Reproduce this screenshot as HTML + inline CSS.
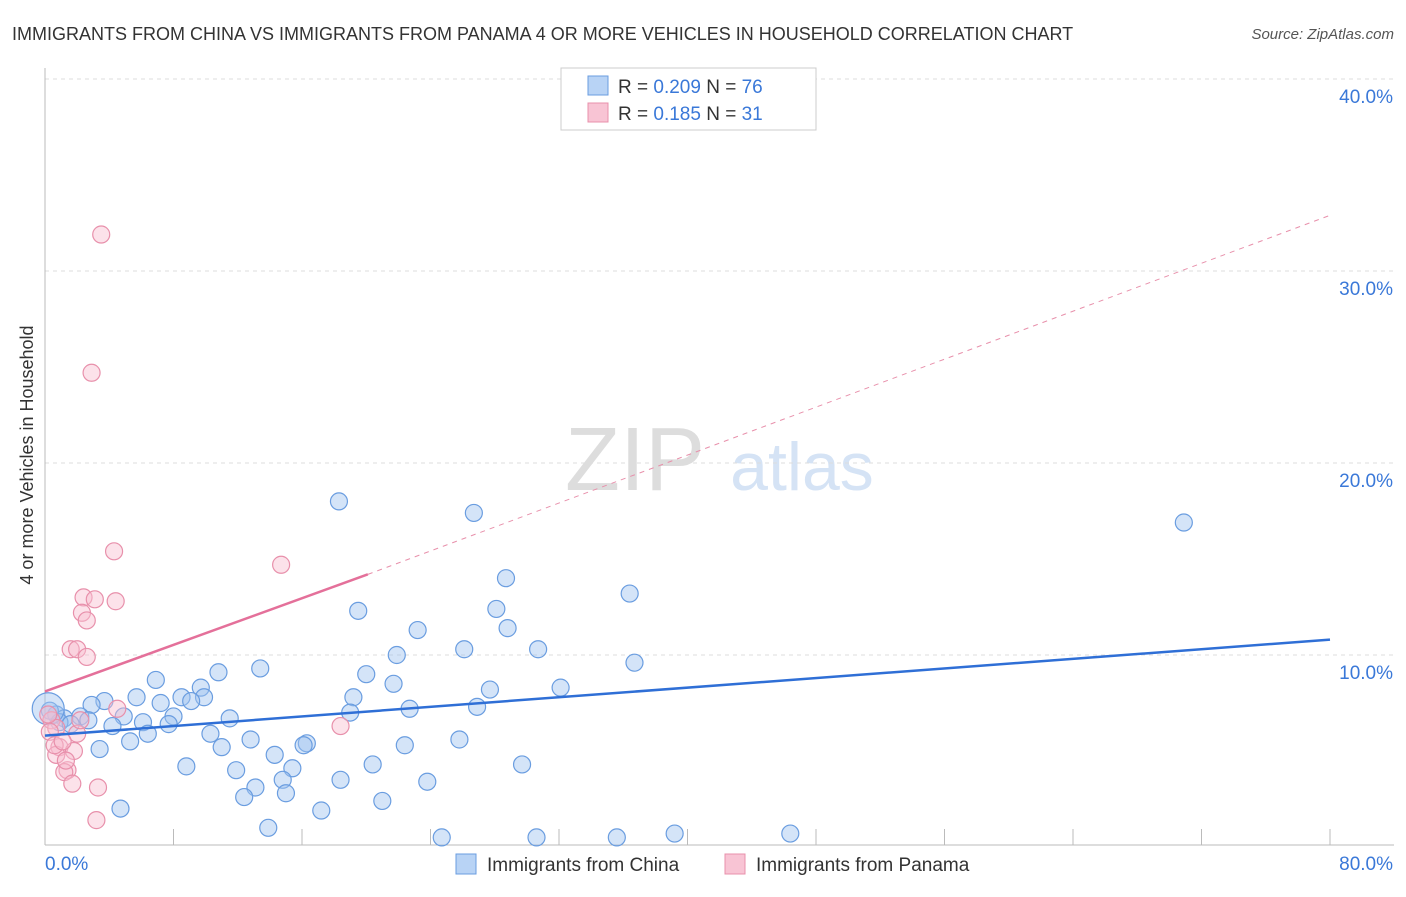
<!DOCTYPE html>
<html><head><meta charset="utf-8"><style>
body{margin:0;background:#fff;font-family:"Liberation Sans",sans-serif;}
svg text{font-family:"Liberation Sans",sans-serif;}
</style></head><body>
<svg width="1406" height="892" id="c">
<text x="12" y="40" font-size="18" fill="#333">IMMIGRANTS FROM CHINA VS IMMIGRANTS FROM PANAMA 4 OR MORE VEHICLES IN HOUSEHOLD CORRELATION CHART</text>
<text x="1394" y="39" font-size="15" fill="#555" font-style="italic" text-anchor="end">Source: ZipAtlas.com</text>
<text x="0" y="0" transform="translate(33,455) rotate(-90)" font-size="18" fill="#333" text-anchor="middle">4 or more Vehicles in Household</text>
<text x="635" y="490" font-size="90" fill="#ddd" font-family="Liberation Serif" text-anchor="middle">ZIP</text>
<text x="802" y="490" font-size="68" fill="#d5e3f5" text-anchor="middle">atlas</text>
<g id="grid"></g><g id="marks"></g>
<g>
<rect x="561" y="68" width="255" height="62" fill="#fff" stroke="#ccc"/>
<rect x="588" y="76" width="20" height="19" fill="#b8d3f5" stroke="#6a9de0"/>
<rect x="588" y="103" width="20" height="19" fill="#f8c4d4" stroke="#e890ab"/>
<text x="618" y="93" font-size="19" fill="#333">R = <tspan fill="#3a78d8">0.209</tspan>   N = <tspan fill="#3a78d8">76</tspan></text>
<text x="618" y="120" font-size="19" fill="#333">R =  <tspan fill="#3a78d8">0.185</tspan>   N =  <tspan fill="#3a78d8">31</tspan></text>
</g>
<g>
<rect x="456" y="854" width="20" height="20" fill="#b8d3f5" stroke="#6a9de0"/>
<text x="487" y="871" font-size="19" fill="#333">Immigrants from China</text>
<rect x="725" y="854" width="20" height="20" fill="#f8c4d4" stroke="#e890ab"/>
<text x="756" y="871" font-size="19" fill="#333">Immigrants from Panama</text>
</g>
</svg>
<script>
const yTicks=[10,20,30,40];
const xTickLabels=["0.0%","80.0%"];
const chinaX=[18.3,26.7,70.9,28.7,36.4,19.5,28.1,23.2,28.8,26.1,30.7,21.9,36.7,13.4,10.8,20.0,6.9,9.7,21.7,27.7,32.1,5.7,8.5,3.7,9.9,19.2,7.2,9.1,2.9,26.9,22.7,19.0,2.2,4.9,8.0,11.5,0.7,1.2,2.7,4.2,6.1,7.7,6.4,10.3,12.8,25.8,5.3,11.0,16.3,16.1,22.4,3.4,14.3,8.8,20.4,29.7,15.4,11.9,18.4,23.8,14.8,13.1,15.0,12.4,21.0,4.7,17.2,13.9,24.7,30.6,35.6,39.2,46.4,0.3,0.9,1.6,0.2];
const chinaY=[18.0,17.4,16.9,14.0,13.2,12.3,12.4,11.3,11.4,10.3,10.3,10.0,9.6,9.3,9.1,9.0,8.7,8.3,8.5,8.2,8.3,7.8,7.8,7.6,7.8,7.8,7.5,7.6,7.4,7.3,7.2,7.0,6.8,6.8,6.8,6.7,6.9,6.7,6.6,6.3,6.5,6.4,5.9,5.9,5.6,5.6,5.5,5.2,5.4,5.3,5.3,5.1,4.8,4.2,4.3,4.3,4.1,4.0,3.5,3.4,3.5,3.1,2.8,2.6,2.4,2.0,1.9,1.0,0.5,0.5,0.5,0.7,0.7,7.1,6.5,6.4,7.2];
const panamaX=[3.5,2.9,4.3,14.7,2.4,4.4,3.1,2.3,2.6,1.6,2.0,2.6,4.5,18.4,0.4,0.7,2.0,0.9,1.8,0.7,1.4,1.2,1.7,3.3,3.2,0.3,0.6,1.1,0.2,2.2,1.3];
const panamaY=[31.9,24.7,15.4,14.7,13.0,12.8,12.9,12.2,11.8,10.3,10.3,9.9,7.2,6.3,6.6,6.2,5.9,5.2,5.0,4.8,4.0,3.9,3.3,3.1,1.4,6.0,5.3,5.5,6.9,6.6,4.5];
const X=v=>45+v/80*1285, Y=v=>847-v*19.2;
const ns="http://www.w3.org/2000/svg";
function mk(t,a,p){const e=document.createElementNS(ns,t);for(const k in a)e.setAttribute(k,a[k]);p.appendChild(e);return e;}
const g=document.getElementById('grid'),m=document.getElementById('marks');
yTicks.forEach(t=>{const l=mk('line',{x1:45,x2:1394,y1:Y(t),y2:Y(t),stroke:'#ddd','stroke-dasharray':'4,4'},g);


const tx=mk('text',{x:1393,y:Y(t)+24,'font-size':19,fill:'#3a78d8','text-anchor':'end'},g);tx.textContent=t.toFixed(1)+'%';

});
mk('line',{x1:45,x2:45,y1:68,y2:845,stroke:'#bbb'},g);
mk('line',{x1:45,x2:1394,y1:845,y2:845,stroke:'#bbb'},g);
for(let i=0;i<=10;i++){mk('line',{x1:X(i*8),x2:X(i*8),y1:829,y2:845,stroke:'#bbb'},g);}
const xl=mk('text',{x:45,y:870,'font-size':19,fill:'#3a78d8'},g);xl.textContent=xTickLabels[0];


const xr=mk('text',{x:1393,y:870,'font-size':19,fill:'#3a78d8','text-anchor':'end'},g);xr.textContent=xTickLabels[1];


chinaX.forEach((x,i)=>{const c=mk('circle',{cx:X(x),cy:Y(chinaY[i]),r:i==chinaX.length-1?16:8.5,fill:'rgba(160,195,240,0.45)',stroke:'#6a9de0','stroke-width':1.2},m);

});
panamaX.forEach((x,i)=>{const c=mk('circle',{cx:X(x),cy:Y(panamaY[i]),r:8.5,fill:'rgba(248,190,208,0.45)',stroke:'#e890ab','stroke-width':1.2},m);

});
const bl=mk('line',{x1:X(0),y1:Y(5.8),x2:X(80),y2:Y(10.8),stroke:'#2f6fd6','stroke-width':2.5},m);


const pl=mk('line',{x1:X(0),y1:Y(8.1),x2:X(20.1),y2:Y(14.2),stroke:'#e4709a','stroke-width':2.5},m);


const pd=mk('line',{x1:X(20.1),y1:Y(14.2),x2:X(80),y2:Y(32.9),stroke:'#e890ab','stroke-width':1,'stroke-dasharray':'5,5'},m);


</script>
</body></html>
